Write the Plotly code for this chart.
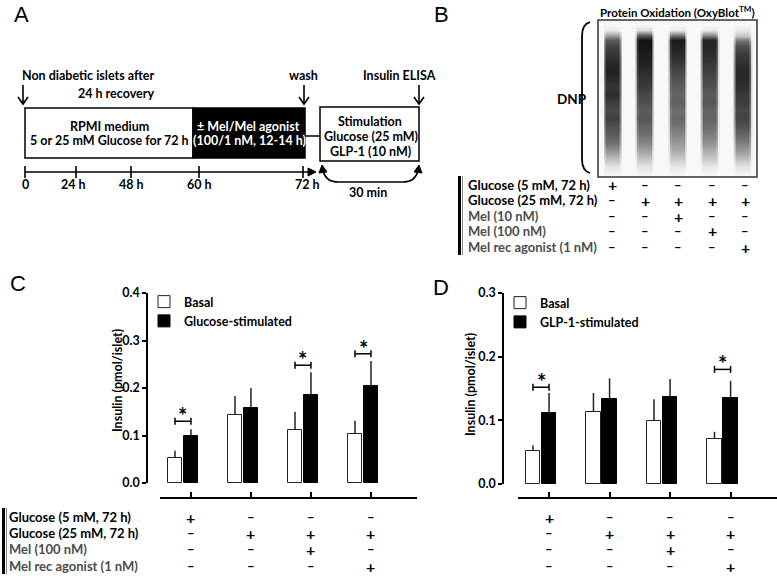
import numpy as np
import plotly.graph_objects as go

W, H = 777, 579
FONT = "Lato"

# ---------------- data ----------------
groups = [1, 2, 3, 4]

c_basal = [0.053, 0.143, 0.112, 0.103]
c_basal_sd = [0.015, 0.040, 0.038, 0.028]
c_glucose = [0.100, 0.158, 0.185, 0.204]
c_glucose_sd = [0.013, 0.042, 0.048, 0.053]
c_sig_groups = [1, 3, 4]
c_sig_levels = [0.130, 0.248, 0.272]

d_basal = [0.052, 0.113, 0.099, 0.071]
d_basal_sd = [0.009, 0.030, 0.034, 0.011]
d_glp1 = [0.111, 0.133, 0.137, 0.135]
d_glp1_sd = [0.032, 0.033, 0.028, 0.027]
d_sig_groups = [1, 4]
d_sig_levels = [0.152, 0.180]

c_yticks = [0.0, 0.1, 0.2, 0.3, 0.4]
d_yticks = [0.0, 0.1, 0.2, 0.3]

cd_row_labels = ["Glucose (5 mM, 72 h)", "Glucose (25 mM, 72 h)", "Mel (100 nM)", "Mel rec agonist (1 nM)"]
cd_rows = [["+", "-", "-", "-"],
           ["-", "+", "+", "+"],
           ["-", "-", "+", "-"],
           ["-", "-", "-", "+"]]

b_row_labels = ["Glucose (5 mM, 72 h)", "Glucose (25 mM, 72 h)", "Mel (10 nM)", "Mel (100 nM)", "Mel rec agonist (1 nM)"]
b_rows = [["+", "-", "-", "-", "-"],
          ["-", "+", "+", "+", "+"],
          ["-", "-", "+", "-", "-"],
          ["-", "-", "-", "+", "-"],
          ["-", "-", "-", "-", "+"]]

timeline_labels = ["0", "24 h", "48 h", "60 h", "72 h"]

# blot lane darkness profiles (top -> bottom)
blot_rows_y = [24, 30, 36, 40, 46, 54, 62, 70, 78, 86, 94, 102, 110, 118, 126, 134, 142, 150, 158, 166, 176]
blot_lane1 = [0, 0.05, 0.35, 0.60, 0.72, 0.80, 0.86, 0.90, 0.86, 0.80, 0.84, 0.76, 0.70, 0.74, 0.66, 0.60, 0.50, 0.38, 0.22, 0.08, 0]
blot_lane2 = [0, 0.10, 0.65, 0.97, 0.96, 0.93, 0.90, 0.86, 0.80, 0.78, 0.70, 0.66, 0.60, 0.63, 0.55, 0.50, 0.42, 0.32, 0.20, 0.08, 0]
blot_lane3 = [0, 0.05, 0.55, 0.94, 0.90, 0.86, 0.80, 0.72, 0.65, 0.60, 0.55, 0.58, 0.50, 0.53, 0.48, 0.42, 0.35, 0.28, 0.18, 0.06, 0]
blot_lane4 = [0, 0.05, 0.45, 0.88, 0.87, 0.84, 0.80, 0.75, 0.70, 0.66, 0.60, 0.63, 0.55, 0.56, 0.50, 0.45, 0.38, 0.28, 0.18, 0.06, 0]
blot_lane5 = [0, 0.05, 0.20, 0.45, 0.66, 0.76, 0.82, 0.86, 0.86, 0.83, 0.78, 0.76, 0.70, 0.73, 0.65, 0.55, 0.45, 0.35, 0.22, 0.08, 0]

# ---------------- layout helpers (pixel -> paper) ----------------
def px(x):
    return x / W

def py(y):
    return 1 - y / H

annotations = []
shapes = []

def txt(x, y, s, size=12.5, color="black", xanchor="center", yanchor="middle", bold=True,
        family=FONT, angle=0):
    annotations.append(dict(x=px(x), y=py(y), xref="paper", yref="paper", text=s,
                            showarrow=False, xanchor=xanchor, yanchor=yanchor, textangle=angle,
                            borderpad=0,
                            font=dict(size=size, color=color, family=family,
                                      weight="bold" if bold else "normal")))

def line(x0, y0, x1, y1, w=1.5, color="black"):
    shapes.append(dict(type="line", xref="paper", yref="paper", x0=px(x0), y0=py(y0),
                       x1=px(x1), y1=py(y1), line=dict(color=color, width=w)))

def rect(x0, y0, x1, y1, fill="white", w=1.5, color="black"):
    shapes.append(dict(type="rect", xref="paper", yref="paper", x0=px(x0), y0=py(y0),
                       x1=px(x1), y1=py(y1), fillcolor=fill, line=dict(color=color, width=w),
                       layer="below"))

def path(cmds, w=1.5, fill=None, color="black"):
    parts = []
    for c in cmds:
        letter, pts = c[0], c[1:]
        coords = " ".join(f"{px(pts[i]):.5f},{py(pts[i + 1]):.5f}" for i in range(0, len(pts), 2))
        parts.append(letter + coords)
    d = " ".join(parts)
    if fill:
        d += " Z"
    shapes.append(dict(type="path", xref="paper", yref="paper", path=d,
                       fillcolor=fill if fill else "rgba(0,0,0,0)",
                       line=dict(color=color, width=w)))

def down_arrow(x, y0, y1):
    line(x, y0, x, y1, 1.6)
    path([("M", x - 5, y1 - 7), ("L", x, y1), ("L", x + 5, y1 - 7)], 1.6)

# ---------------- figure ----------------
fig = go.Figure()

OFF, BW = 0.133, 0.235
err_style = dict(type="data", symmetric=False, width=0, thickness=1.5, color="#222")

def add_panel(basal, basal_sd, stim, stim_sd, stim_name, xa, ya, leg):
    fig.add_trace(go.Bar(x=[g - OFF for g in groups], y=basal, width=BW, name="Basal",
                         marker=dict(color="white", line=dict(color="#222", width=1)),
                         error_y=dict(array=basal_sd, arrayminus=[0] * len(basal), **err_style),
                         xaxis=xa, yaxis=ya, legend=leg))
    fig.add_trace(go.Bar(x=[g + OFF for g in groups], y=stim, width=BW, name=stim_name,
                         marker=dict(color="black", line=dict(color="black", width=1)),
                         error_y=dict(array=stim_sd, arrayminus=[0] * len(stim), **err_style),
                         xaxis=xa, yaxis=ya, legend=leg))

add_panel(c_basal, c_basal_sd, c_glucose, c_glucose_sd, "Glucose-stimulated", "x", "y", "legend")
add_panel(d_basal, d_basal_sd, d_glp1, d_glp1_sd, "GLP-1-stimulated", "x2", "y2", "legend2")

# blot image (panel B) as a heatmap
blot_x = np.arange(598, 757.5, 1.5)
lane_centers = [612, 644, 677, 709, 742]
prof = np.array([blot_lane1, blot_lane2, blot_lane3, blot_lane4, blot_lane5])
z = np.zeros((len(blot_rows_y), len(blot_x)))
for li, c in enumerate(lane_centers):
    wgt = np.clip((9.5 - np.abs(blot_x - c)) / 3.0, 0, 1)
    z = np.maximum(z, np.outer(prof[li], wgt))
fig.add_trace(go.Heatmap(x=blot_x, y=blot_rows_y, z=z, zmin=0, zmax=1, zsmooth="best",
                         colorscale=[[0, "#f8f8f8"], [0.5, "#6e6e6e"], [1, "#0e0e0e"]],
                         showscale=False, hoverinfo="skip", xaxis="x3", yaxis="y3"))

axis_common = dict(showgrid=False, zeroline=False, linecolor="black", linewidth=1.5,
                   tickcolor="black", tickwidth=1.5, automargin=False)
tickfont = dict(family=FONT, size=12.5, color="black", weight="bold")
legfont = dict(family=FONT, size=12.5, color="black", weight="bold")

fig.update_layout(
    width=W, height=H, margin=dict(l=0, r=0, t=0, b=0, pad=0, autoexpand=False),
    paper_bgcolor="white", plot_bgcolor="rgba(0,0,0,0)",
    barmode="overlay", bargap=0,
    font=dict(family=FONT, size=12, color="black"),
    xaxis=dict(domain=[px(160), px(417)], range=[0.617, 4.90], anchor="free", position=py(498),
               showline=True, ticks="inside", ticklen=5, tickvals=[g + OFF for g in groups],
               showticklabels=False, **axis_common),
    yaxis=dict(domain=[py(483), py(293)], range=[0, 0.4], anchor="free", position=px(147),
               showline=True, ticks="outside", ticklen=4, tickvals=c_yticks, tickformat=".1f",
               tickfont=tickfont, **axis_common),
    xaxis2=dict(domain=[px(518), 1.0], range=[0.62, 4.90], anchor="free", position=py(498),
                showline=True, ticks="inside", ticklen=5, tickvals=[g + OFF for g in groups],
                showticklabels=False, **axis_common),
    yaxis2=dict(domain=[py(484), py(293)], range=[0, 0.3], anchor="free", position=px(503),
                showline=True, ticks="outside", ticklen=4, tickvals=d_yticks, tickformat=".1f",
                tickfont=tickfont, **axis_common),
    xaxis3=dict(domain=[px(598), px(757)], range=[598, 757], visible=False, anchor="y3",
                automargin=False),
    yaxis3=dict(domain=[py(177), py(20)], range=[177, 20], visible=False, anchor="x3",
                automargin=False),
    legend=dict(x=px(144), y=py(287), xanchor="left", yanchor="top", bgcolor="rgba(0,0,0,0)",
                font=legfont, itemwidth=30, tracegroupgap=0),
    legend2=dict(x=px(500), y=py(288), xanchor="left", yanchor="top", bgcolor="rgba(0,0,0,0)",
                 font=legfont, itemwidth=30, tracegroupgap=0),
)

# significance brackets and stars (data coordinates)
def sig(xa, ya, gs, levels, cap):
    for g, lv in zip(gs, levels):
        xl, xr = g - OFF, g + OFF
        shapes.append(dict(type="line", xref=xa, yref=ya, x0=xl, x1=xr, y0=lv, y1=lv,
                           line=dict(color="black", width=1.5)))
        for xe in (xl, xr):
            shapes.append(dict(type="line", xref=xa, yref=ya, x0=xe, x1=xe, y0=lv - cap, y1=lv + cap,
                               line=dict(color="black", width=1.5)))
        annotations.append(dict(x=g, y=lv, xref=xa, yref=ya, text="*", showarrow=False,
                                xanchor="center", yanchor="bottom", yshift=-9, borderpad=0,
                                font=dict(family=FONT, size=22, color="black", weight="bold")))

sig("x", "y", c_sig_groups, c_sig_levels, 0.4 / 190 * 3.5)
sig("x2", "y2", d_sig_groups, d_sig_levels, 0.3 / 191 * 3.5)

# treatment tables under C and D
row_y = [517, 533, 549, 566]
row_colors = ["black", "black", "#4d4d4d", "#4d4d4d"]
for r, (lab, vals) in enumerate(zip(cd_row_labels, cd_rows)):
    txt(8, row_y[r], lab, 13, row_colors[r], xanchor="left")
    for xa in ("x", "x2"):
        for g, v in zip(groups, vals):
            s = "+" if v == "+" else "–"
            annotations.append(dict(x=g + OFF, y=py(row_y[r]), xref=xa, yref="paper", text=s,
                                    showarrow=False, xanchor="center", yanchor="middle", borderpad=0,
                                    font=dict(family=FONT, size=16 if v == "+" else 13,
                                              color="black", weight="bold")))
line(3.5, 508, 3.5, 574, 3)
line(6.5, 508, 6.5, 574, 1, "#888")

# y titles
txt(117, 381, "Insulin (pmol/islet)", 12.5, angle=-90)
txt(470, 385, "Insulin (pmol/islet)", 12.5, angle=-90)

# panel letters
for lt, x, y in [("A", 21, 14), ("B", 441, 14), ("C", 18, 283), ("D", 441, 287)]:
    txt(x, y, lt, 22, bold=False, family="Liberation Sans")

# ---------------- panel A schematic ----------------
txt(21, 76, "Non diabetic islets after", 12.5, xanchor="left")
txt(155, 94, "24 h recovery", 12.5, xanchor="right")
txt(303, 76, "wash", 12.5)
txt(399, 76, "Insulin ELISA", 12.5)
down_arrow(23, 85, 104)
down_arrow(304, 85, 104)
down_arrow(419, 85, 104)

rect(25, 108, 193, 158, "white")
rect(193, 108, 305, 158, "black")
txt(109, 126, "RPMI medium", 12.5)
txt(109, 140, "5 or 25 mM Glucose for 72 h", 12.5)
txt(248, 126, "± Mel/Mel agonist", 12.5, "white")
txt(249, 140, "(100/1 nM, 12-14 h)", 12.5, "white")
line(305, 136, 320, 136, 1.5)
rect(320, 107, 419, 161, "white")
txt(370, 121, "Stimulation", 12.5)
txt(371, 136, "Glucose (25 mM)", 12.5)
txt(370, 152, "GLP-1 (10 nM)", 12.5)

# timeline
tl_px = [25, 76, 131, 199, 303]
line(25, 172, 310, 172, 1.6)
path([("M", 308, 168), ("L", 316, 172), ("L", 308, 176)], 1, fill="black")
for xpos, lab in zip(tl_px, timeline_labels):
    line(xpos, 166, xpos, 178, 1.6)
    txt(xpos + (4 if lab == "72 h" else 0) - (3 if lab == "24 h" else 0), 185, lab, 12.5)

# 30 min curved double arrow
path([("M", 323, 171), ("Q", 326, 182, 338, 182), ("L", 403, 182), ("Q", 415, 182, 418, 171)], 1.6)
path([("M", 319, 173), ("L", 322, 165), ("L", 327, 172)], 1, fill="black")
path([("M", 414, 172), ("L", 419, 165), ("L", 422, 173)], 1, fill="black")
txt(368, 192, "30 min", 12.5)

# ---------------- panel B ----------------
txt(677, 12, "Protein Oxidation (OxyBlot<sup>TM</sup>)", 11.5)
shapes.append(dict(type="rect", xref="paper", yref="paper", x0=px(598), x1=px(757), y0=py(177),
                   y1=py(20), line=dict(color="#333", width=1.5), fillcolor="rgba(0,0,0,0)"))
path([("M", 590, 22), ("Q", 582, 24, 582, 36), ("L", 582, 159), ("Q", 582, 171, 590, 173)], 1.8)
txt(572, 99, "DNP", 13.5)
b_row_y = [185, 200, 216, 231, 247]
b_row_colors = ["black", "black", "#4d4d4d", "#4d4d4d", "#4d4d4d"]
b_col_x = [612, 645, 678, 712, 745]
for r, (lab, vals) in enumerate(zip(b_row_labels, b_rows)):
    txt(467, b_row_y[r], lab, 13, b_row_colors[r], xanchor="left")
    for xc, v in zip(b_col_x, vals):
        txt(xc, b_row_y[r], "+" if v == "+" else "–", 16 if v == "+" else 13)
line(459.5, 176, 459.5, 255, 3)
line(462.5, 176, 462.5, 255, 1, "#888")

fig.update_layout(shapes=shapes, annotations=annotations)
fig.write_html("out.html", config={"displayModeBar": False},
               post_script="document.body.style.margin='0';document.body.style.overflow='hidden';")
